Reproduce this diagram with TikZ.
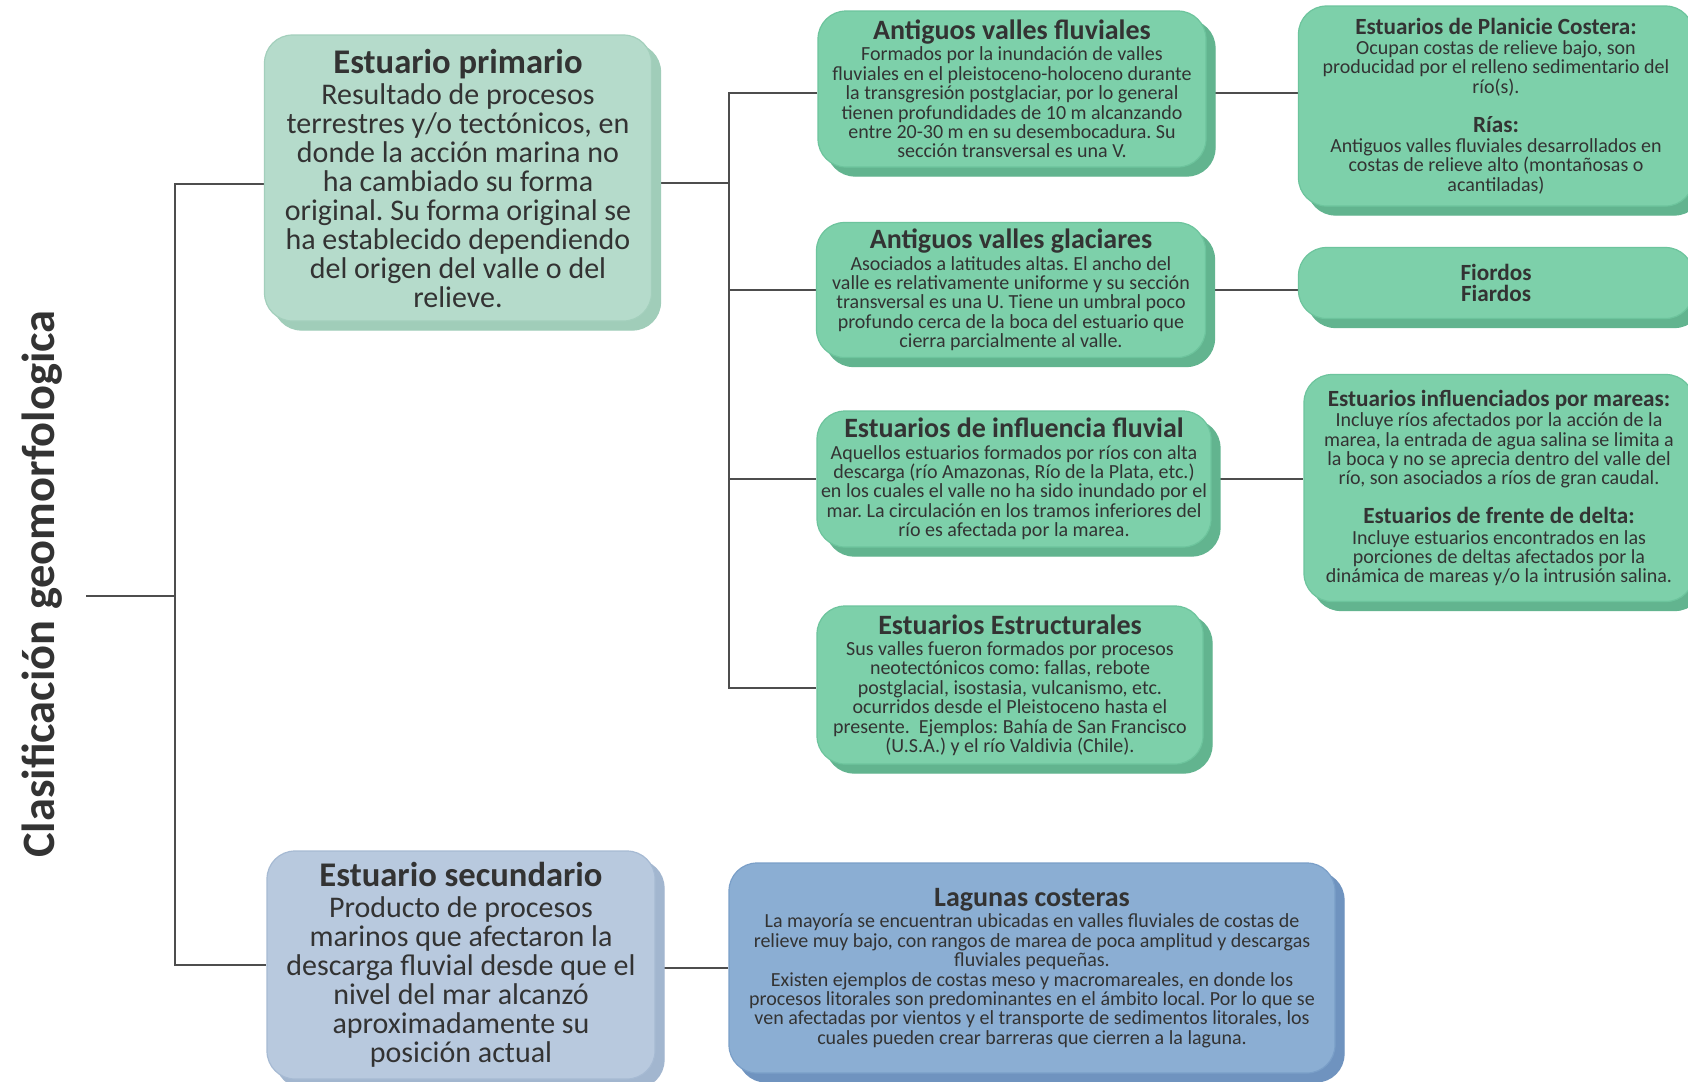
\documentclass[tikz,border=0pt]{standalone}
\usepackage{fontspec}
\setmainfont{Carlito}
\usetikzlibrary{shadows,backgrounds}

\definecolor{texto}{HTML}{333333}
\definecolor{linea}{HTML}{4D4D4D}
\definecolor{salvia}{HTML}{B5DBCB}
\definecolor{salviaborde}{HTML}{A3CFBC}
\definecolor{salviasombra}{HTML}{A0CDB9}
\definecolor{verde}{HTML}{7DD0AA}
\definecolor{verdeborde}{HTML}{6DC49D}
\definecolor{verdesombra}{HTML}{62B48F}
\definecolor{grisazul}{HTML}{B8C9DE}
\definecolor{grisazulborde}{HTML}{A6BAD3}
\definecolor{grisazulsombra}{HTML}{A2B6CF}
\definecolor{azul}{HTML}{8BAED3}
\definecolor{azulborde}{HTML}{7A9FC8}
\definecolor{azulsombra}{HTML}{6F93BF}

\frenchspacing
\lineskiplimit=-20pt

\tikzset{
  caja/.style={rectangle, rounded corners=14pt, align=center, text=texto, inner sep=2pt, line width=0.6pt},
  cajasalvia/.style={caja, fill=salvia, draw=salviaborde,
    copy shadow={shadow xshift=4.5pt, shadow yshift=-4.5pt, fill=salviasombra, draw=salviasombra}},
  cajaverde/.style={caja, fill=verde, draw=verdeborde,
    copy shadow={shadow xshift=4.5pt, shadow yshift=-4.5pt, fill=verdesombra, draw=verdesombra}},
  cajagris/.style={caja, fill=grisazul, draw=grisazulborde,
    copy shadow={shadow xshift=4.5pt, shadow yshift=-4.5pt, fill=grisazulsombra, draw=grisazulsombra}},
  cajaazul/.style={caja, fill=azul, draw=azulborde,
    copy shadow={shadow xshift=4.5pt, shadow yshift=-4.5pt, fill=azulsombra, draw=azulsombra}},
  conector/.style={draw=linea, line width=0.9pt},
  cuerpo/.style={font=\fontsize{10}{9.7}\selectfont},
  cuerpogrande/.style={font=\fontsize{15}{14.5}\selectfont}
}

\newcommand{\tituloG}[1]{{\fontsize{17.3}{16}\selectfont\bfseries #1}\\[1pt]}
\newcommand{\tituloM}[1]{{\fontsize{14}{12}\selectfont\bfseries #1}\\[1pt]}
\newcommand{\tituloP}[1]{{\fontsize{11.6}{10}\selectfont\bfseries #1}\\[0.5pt]}

\begin{document}
\begin{tikzpicture}[x=0.5pt, y=-0.5pt]
  \useasboundingbox (0,0) rectangle (1688,1082);

  % titulo vertical
  \node[rotate=90, text=texto, font=\fontsize{23.2}{26}\selectfont\bfseries] (clasif) at (42,584) {Clasificación geomorfologica};

  % estuario primario
  \node[cajasalvia, cuerpogrande, minimum width=193.5pt, minimum height=143pt] (prim) at (458,178)
    {\tituloG{Estuario primario}
     Resultado de procesos\\
     terrestres y/o tectónicos, en\\
     donde la acción marina no\\
     ha cambiado su forma\\
     original. Su forma original se\\
     ha establecido dependiendo\\
     del origen del valle o del\\
     relieve.};

  % estuario secundario
  \node[cajagris, cuerpogrande, minimum width=194pt, minimum height=114pt] (sec) at (461,965)
    {\tituloG{Estuario secundario}
     Producto de procesos\\
     marinos que afectaron la\\
     descarga fluvial desde que el\\
     nivel del mar alcanzó\\
     aproximadamente su\\
     posición actual};

  % segunda columna
  \node[cajaverde, cuerpo, minimum width=194pt, minimum height=78pt] (fl) at (1012,89)
    {\tituloM{Antiguos valles fluviales}
     Formados por la inundación de valles\\
     fluviales en el pleistoceno-holoceno durante\\
     la transgresión postglaciar, por lo general\\
     tienen profundidades de 10 m alcanzando\\
     entre 20-30 m en su desembocadura. Su\\
     sección transversal es una V.};

  \node[cajaverde, cuerpo, minimum width=194.5pt, minimum height=67.5pt] (gl) at (1011,290)
    {\tituloM{Antiguos valles glaciares}
     Asociados a latitudes altas. El ancho del\\
     valle es relativamente uniforme y su sección\\
     transversal es una U. Tiene un umbral poco\\
     profundo cerca de la boca del estuario que\\
     cierra parcialmente al valle.};

  \node[cajaverde, cuerpo, minimum width=194pt, minimum height=68pt] (inf) at (1014,479)
    {\tituloM{Estuarios de influencia fluvial}
     Aquellos estuarios formados por ríos con alta\\
     descarga (río Amazonas, Río de la Plata, etc.)\\
     en los cuales el valle no ha sido inundado por el\\
     mar. La circulación en los tramos inferiores del\\
     río es afectada por la marea.};

  \node[cajaverde, cuerpo, minimum width=193pt, minimum height=79pt] (est) at (1010,685)
    {\tituloM{Estuarios Estructurales}
     Sus valles fueron formados por procesos\\
     neotectónicos como: fallas, rebote\\
     postglacial, isostasia, vulcanismo, etc.\\
     ocurridos desde el Pleistoceno hasta el\\
     presente.\ \ Ejemplos: Bahía de San Francisco\\
     (U.S.A.) y el río Valdivia (Chile).};

  % tercera columna
  \node[cajaverde, cuerpo, minimum width=197.5pt, minimum height=100pt] (plan) at (1496,106)
    {\tituloP{Estuarios de Planicie Costera:}
     Ocupan costas de relieve bajo, son\\
     producidad por el relleno sedimentario del\\
     río(s).\\[9.7pt]
     \tituloP{Rías:}
     Antiguos valles fluviales desarrollados en\\
     costas de relieve alto (montañosas o\\
     acantiladas)};

  \node[cajaverde, font=\fontsize{11.6}{10.5}\selectfont\bfseries, minimum width=197.5pt, minimum height=35.5pt] (fior) at (1496,283)
    {Fiordos\\ Fiardos};

  \node[cajaverde, cuerpo, minimum width=195pt, minimum height=113.5pt] (mar) at (1499,488)
    {\tituloP{Estuarios influenciados por mareas:}
     Incluye ríos afectados por la acción de la\\
     marea, la entrada de agua salina se limita a\\
     la boca y no se aprecia dentro del valle del\\
     río, son asociados a ríos de gran caudal.\\[9.7pt]
     \tituloP{Estuarios de frente de delta:}
     Incluye estuarios encontrados en las\\
     porciones de deltas afectados por la\\
     dinámica de mareas y/o la intrusión salina.};

  % lagunas costeras
  \node[cajaazul, cuerpo, minimum width=303pt, minimum height=105pt] (lag) at (1032,968)
    {\tituloM{Lagunas costeras}
     La mayoría se encuentran ubicadas en valles fluviales de costas de\\
     relieve muy bajo, con rangos de marea de poca amplitud y descargas\\
     fluviales pequeñas.\\
     Existen ejemplos de costas meso y macromareales, en donde los\\
     procesos litorales son predominantes en el ámbito local. Por lo que se\\
     ven afectadas por vientos y el transporte de sedimentos litorales, los\\
     cuales pueden crear barreras que cierren a la laguna.};

  % conectores
  \coordinate (inicio) at (86,596);
  \coordinate (tronco) at (175,596);
  \coordinate (rama) at (729,183);
  \begin{pgfonlayer}{background}
    \fill[white] (0,0) rectangle (1688,1082);
    \draw[conector] (inicio) -- (tronco);
    \draw[conector] ([yshift=-3pt]prim.west) -| (tronco) |- (sec.west);
    \draw[conector] (prim.east |- rama) -- (rama);
    \draw[conector] ([yshift=-2pt]fl.west) -| (rama) |- ([yshift=-1.5pt]est.west);
    \draw[conector] (gl.west) -- (gl.west -| rama);
    \draw[conector] (inf.west) -- (inf.west -| rama);
    \draw[conector] ([yshift=-2pt]fl.east) -- ([yshift=-2pt]fl.east -| plan.west);
    \draw[conector] (gl.east) -- (gl.east -| fior.west);
    \draw[conector] (inf.east) -- (inf.east -| mar.west);
    \draw[conector] (sec.east |- lag.west) -- (lag.west);
  \end{pgfonlayer}
\end{tikzpicture}
\end{document}
